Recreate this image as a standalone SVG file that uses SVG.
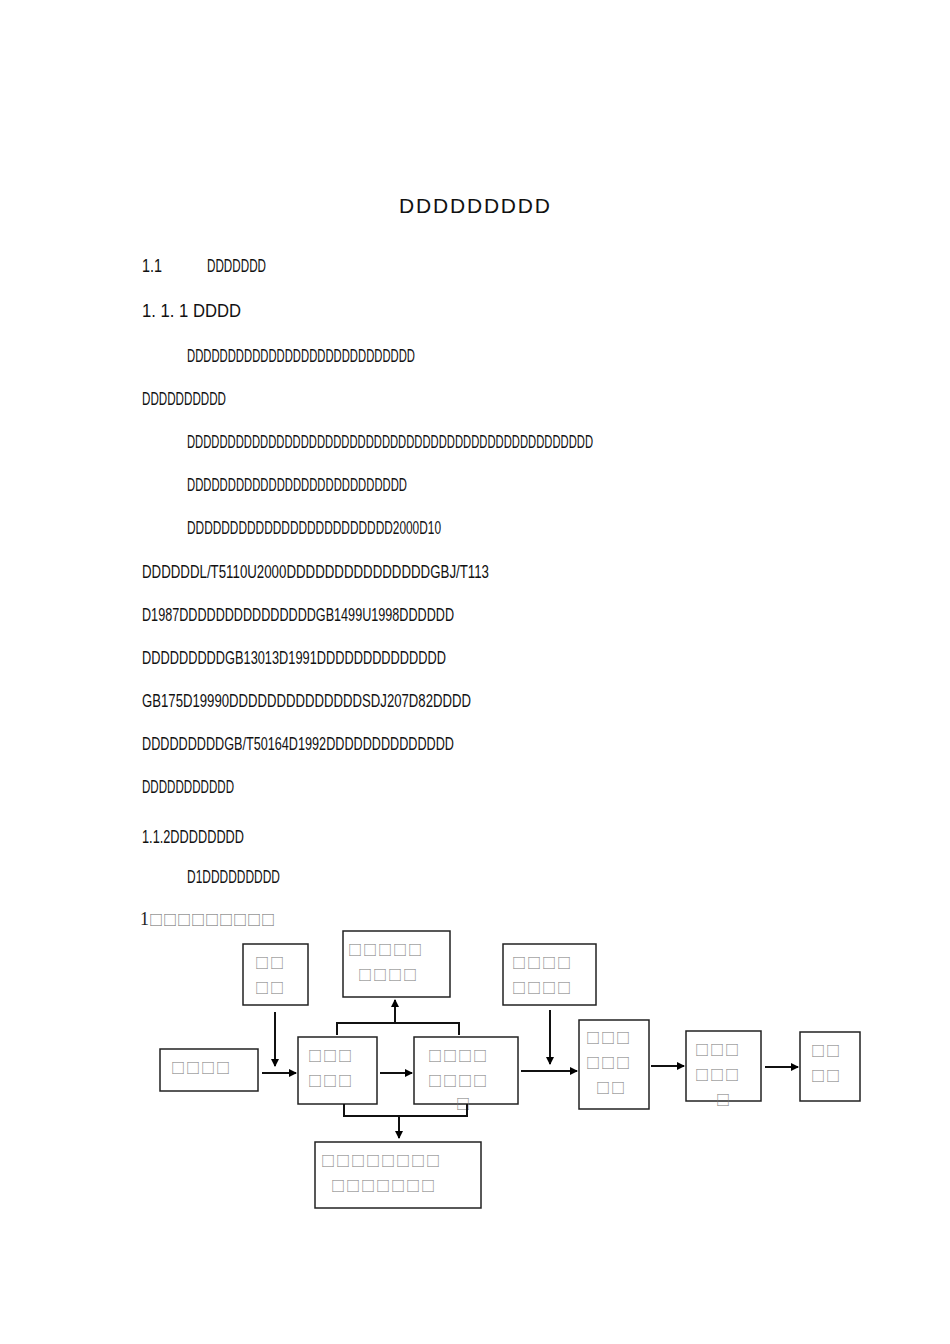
<svg xmlns="http://www.w3.org/2000/svg" width="950" height="1344" viewBox="0 0 950 1344">
<defs>
<marker id="ah" markerWidth="8" markerHeight="8" refX="7" refY="4" orient="auto" markerUnits="userSpaceOnUse"><path d="M0,0 L8,4 L0,8 z" fill="#000"/></marker>
</defs>
<style>
.b{font-family:"Liberation Sans",sans-serif;font-size:19px;fill:#111}
.t{font-family:"Liberation Sans",sans-serif;font-size:21px;fill:#111}
.n rect{fill:#fff;stroke:#222;stroke-width:1.5}
.n text{font-family:"Noto Sans CJK SC",sans-serif;font-size:14px;fill:#777;letter-spacing:1px}
.c path{fill:none;stroke:#111;stroke-width:2}
</style>
<rect width="950" height="1344" fill="#fff"/>
<text class="t" x="399" y="213" textLength="151">DDDDDDDDD</text>
<g lengthAdjust="spacingAndGlyphs">
<text class="b" x="142" y="272" textLength="20" lengthAdjust="spacingAndGlyphs">1.1</text>
<text class="b" x="207" y="272" textLength="59" lengthAdjust="spacingAndGlyphs">DDDDDDD</text>
<text class="b" x="142" y="317" textLength="99" lengthAdjust="spacingAndGlyphs">1. 1. 1 DDDD</text>
<text class="b" x="187" y="362" textLength="228" lengthAdjust="spacingAndGlyphs">DDDDDDDDDDDDDDDDDDDDDDDDDDDD</text>
<text class="b" x="142" y="405" textLength="84" lengthAdjust="spacingAndGlyphs">DDDDDDDDDD</text>
<text class="b" x="187" y="448" textLength="406" lengthAdjust="spacingAndGlyphs">DDDDDDDDDDDDDDDDDDDDDDDDDDDDDDDDDDDDDDDDDDDDDDDDDD</text>
<text class="b" x="187" y="491" textLength="220" lengthAdjust="spacingAndGlyphs">DDDDDDDDDDDDDDDDDDDDDDDDDDD</text>
<text class="b" x="187" y="534" textLength="254" lengthAdjust="spacingAndGlyphs">DDDDDDDDDDDDDDDDDDDDDDDD2000D10</text>
<text class="b" x="142" y="578" textLength="347" lengthAdjust="spacingAndGlyphs">DDDDDDL/T5110U2000DDDDDDDDDDDDDDDGBJ/T113</text>
<text class="b" x="142" y="621" textLength="312" lengthAdjust="spacingAndGlyphs">D1987DDDDDDDDDDDDDDDGB1499U1998DDDDDD</text>
<text class="b" x="142" y="664" textLength="304" lengthAdjust="spacingAndGlyphs">DDDDDDDDDGB13013D1991DDDDDDDDDDDDDD</text>
<text class="b" x="142" y="707" textLength="329" lengthAdjust="spacingAndGlyphs">GB175D19990DDDDDDDDDDDDDDSDJ207D82DDDD</text>
<text class="b" x="142" y="750" textLength="312" lengthAdjust="spacingAndGlyphs">DDDDDDDDDGB/T50164D1992DDDDDDDDDDDDDD</text>
<text class="b" x="142" y="793" textLength="92" lengthAdjust="spacingAndGlyphs">DDDDDDDDDDD</text>
<text class="b" x="142" y="843" textLength="102" lengthAdjust="spacingAndGlyphs">1.1.2DDDDDDDD</text>
<text class="b" x="187" y="883" textLength="93" lengthAdjust="spacingAndGlyphs">D1DDDDDDDDD</text>
</g>
<text x="140" y="925" font-family="Liberation Serif,serif" font-size="18" fill="#222">1<tspan font-family="Noto Sans CJK SC,sans-serif" font-size="14" fill="#666" letter-spacing="0">□□□□□□□□□</tspan></text>

<g id="n1" class="n"><rect x="243" y="944" width="65" height="61"/><text x="255" y="968">□□</text><text x="255" y="993">□□</text></g>
<g id="n2" class="n"><rect x="343" y="931" width="107" height="66"/><text x="348" y="955">□□□□□</text><text x="358" y="980">□□□□</text></g>
<g id="n3" class="n"><rect x="160" y="1049" width="98" height="42"/><text x="171" y="1073">□□□□</text></g>
<g id="n4" class="n"><rect x="298" y="1037" width="79" height="67"/><text x="308" y="1061">□□□</text><text x="308" y="1086">□□□</text></g>
<g id="n5" class="n"><rect x="414" y="1037" width="104" height="67"/><text x="428" y="1061">□□□□</text><text x="428" y="1086">□□□□</text><text x="456" y="1109">□</text></g>
<g id="n6" class="n"><rect x="315" y="1142" width="166" height="66"/><text x="321" y="1166">□□□□□□□□</text><text x="331" y="1191">□□□□□□□</text></g>
<g id="n7" class="n"><rect x="503" y="944" width="93" height="61"/><text x="512" y="968">□□□□</text><text x="512" y="993">□□□□</text></g>
<g id="n8" class="n"><rect x="579" y="1020" width="70" height="89"/><text x="586" y="1043">□□□</text><text x="586" y="1068">□□□</text><text x="596" y="1093">□□</text></g>
<g id="n9" class="n"><rect x="686" y="1031" width="75" height="70"/><text x="695" y="1055">□□□</text><text x="695" y="1080">□□□</text><text x="716" y="1105">□</text></g>
<g id="n10" class="n"><rect x="800" y="1032" width="60" height="69"/><text x="811" y="1056">□□</text><text x="811" y="1081">□□</text></g>

<g id="connectors" class="c">
<path d="M275,1012 V1066" marker-end="url(#ah)"/>
<path d="M262,1073 H296" marker-end="url(#ah)"/>
<path d="M380,1073 H412" marker-end="url(#ah)"/>
<path d="M521,1071 H577" marker-end="url(#ah)"/>
<path d="M550,1010 V1064" marker-end="url(#ah)"/>
<path d="M651,1066 H684" marker-end="url(#ah)"/>
<path d="M765,1067 H798" marker-end="url(#ah)"/>
<path d="M337,1035 V1023 H459 V1035" stroke-width="1.5"/>
<path d="M395,1023 V1000" marker-end="url(#ah)"/>
<path d="M344,1104 V1116 H467 V1104" stroke-width="1.5"/>
<path d="M399,1116 V1138" marker-end="url(#ah)"/>
</g>
</svg>
